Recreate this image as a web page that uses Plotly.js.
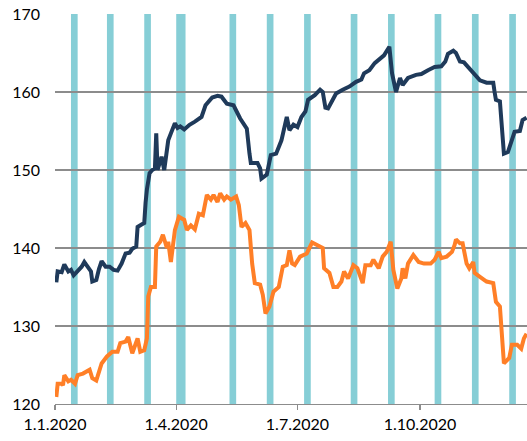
<!DOCTYPE html>
<html>
<head>
<meta charset="utf-8">
<script src="https://cdn.plot.ly/plotly-3.0.1.min.js"></script>
<style>html,body{margin:0;padding:0;background:#fff;}#chart{width:527px;height:441px;}</style>
</head>
<body>
<div id="chart"></div>
<script>
const navyDates = ["2020-01-02","2020-01-03","2020-01-06","2020-01-08","2020-01-11","2020-01-13","2020-01-15","2020-01-18","2020-01-21","2020-01-23","2020-01-26","2020-01-28","2020-01-29","2020-02-01","2020-02-03","2020-02-05","2020-02-08","2020-02-11","2020-02-14","2020-02-17","2020-02-20","2020-02-23","2020-02-26","2020-02-28","2020-03-02","2020-03-03","2020-03-06","2020-03-08","2020-03-09","2020-03-10","2020-03-12","2020-03-14","2020-03-16","2020-03-17","2020-03-18","2020-03-21","2020-03-23","2020-03-26","2020-03-28","2020-03-31","2020-04-02","2020-04-04","2020-04-07","2020-04-11","2020-04-15","2020-04-20","2020-04-23","2020-04-28","2020-05-02","2020-05-05","2020-05-09","2020-05-14","2020-05-19","2020-05-24","2020-05-26","2020-05-27","2020-06-01","2020-06-03","2020-06-04","2020-06-08","2020-06-11","2020-06-15","2020-06-19","2020-06-23","2020-06-25","2020-06-28","2020-07-01","2020-07-04","2020-07-07","2020-07-09","2020-07-14","2020-07-18","2020-07-20","2020-07-22","2020-07-24","2020-07-30","2020-08-04","2020-08-09","2020-08-14","2020-08-18","2020-08-20","2020-08-24","2020-08-28","2020-09-01","2020-09-04","2020-09-08","2020-09-10","2020-09-13","2020-09-16","2020-09-18","2020-09-22","2020-09-28","2020-10-02","2020-10-07","2020-10-12","2020-10-17","2020-10-20","2020-10-22","2020-10-26","2020-10-28","2020-10-31","2020-11-03","2020-11-06","2020-11-10","2020-11-15","2020-11-20","2020-11-25","2020-11-26","2020-11-27","2020-11-30","2020-12-02","2020-12-03","2020-12-06","2020-12-08","2020-12-11","2020-12-15","2020-12-17","2020-12-20"];
const navyValues = [135.6,137.0,136.9,137.9,137.0,137.2,136.5,137.1,137.6,138.2,137.4,137.0,135.7,135.9,137.3,138.3,137.6,137.6,137.2,137.1,138.0,139.3,139.4,139.9,140.2,142.7,143.0,143.2,145.8,147.5,149.6,150.0,150.2,154.7,150.0,151.7,150.0,153.8,154.7,156.0,155.4,155.6,155.2,155.8,156.2,156.8,158.3,159.3,159.5,159.4,158.5,158.3,156.6,155.3,152.1,150.9,150.9,150.2,148.9,149.4,151.9,152.1,153.8,156.8,155.1,155.8,155.5,156.8,157.5,159.0,159.6,160.3,160.0,158.0,157.9,159.8,160.3,160.7,161.3,161.6,162.4,162.8,163.7,164.3,164.7,165.8,162.4,160.0,161.8,160.9,161.8,162.2,162.3,162.8,163.2,163.3,163.9,164.9,165.3,165.0,163.9,163.8,163.2,162.4,161.5,161.2,161.2,160.0,159.0,158.8,155.1,152.1,152.3,153.4,154.9,155.0,156.4,156.7];

const orangeDates = ["2020-01-02","2020-01-03","2020-01-06","2020-01-07","2020-01-08","2020-01-11","2020-01-13","2020-01-16","2020-01-18","2020-01-22","2020-01-27","2020-01-29","2020-02-01","2020-02-05","2020-02-09","2020-02-13","2020-02-17","2020-02-19","2020-02-23","2020-02-25","2020-02-28","2020-03-01","2020-03-03","2020-03-05","2020-03-08","2020-03-10","2020-03-11","2020-03-13","2020-03-16","2020-03-17","2020-03-20","2020-03-22","2020-03-25","2020-03-26","2020-03-28","2020-03-31","2020-04-03","2020-04-07","2020-04-09","2020-04-12","2020-04-15","2020-04-18","2020-04-21","2020-04-24","2020-04-27","2020-04-29","2020-05-02","2020-05-04","2020-05-07","2020-05-09","2020-05-12","2020-05-16","2020-05-18","2020-05-20","2020-05-23","2020-05-26","2020-05-28","2020-05-30","2020-06-03","2020-06-05","2020-06-07","2020-06-10","2020-06-13","2020-06-17","2020-06-20","2020-06-23","2020-06-25","2020-06-27","2020-06-29","2020-07-03","2020-07-08","2020-07-12","2020-07-15","2020-07-20","2020-07-21","2020-07-25","2020-07-28","2020-07-31","2020-08-03","2020-08-05","2020-08-08","2020-08-12","2020-08-15","2020-08-19","2020-08-21","2020-08-25","2020-08-27","2020-08-31","2020-09-03","2020-09-06","2020-09-09","2020-09-11","2020-09-14","2020-09-17","2020-09-18","2020-09-20","2020-09-22","2020-09-26","2020-09-30","2020-10-04","2020-10-09","2020-10-12","2020-10-15","2020-10-17","2020-10-21","2020-10-25","2020-10-27","2020-10-28","2020-10-31","2020-11-02","2020-11-05","2020-11-07","2020-11-10","2020-11-11","2020-11-15","2020-11-17","2020-11-20","2020-11-25","2020-11-27","2020-11-30","2020-12-01","2020-12-02","2020-12-03","2020-12-07","2020-12-09","2020-12-13","2020-12-16","2020-12-18","2020-12-20"];
const orangeValues = [120.9,122.6,122.6,122.4,123.7,122.9,123.1,122.6,123.7,123.9,124.4,123.3,123.0,125.2,126.1,126.7,126.7,127.8,128.0,128.6,126.5,127.3,128.4,126.7,126.9,128.4,133.8,135.0,135.0,140.2,140.8,141.7,140.0,140.8,138.2,142.3,144.0,143.6,142.3,142.9,142.4,144.4,144.2,146.8,146.2,146.8,145.9,147.0,146.2,146.6,146.2,146.6,145.5,142.7,143.2,142.3,138.0,135.5,135.3,134.0,131.6,132.5,134.4,135.0,137.6,137.8,139.7,138.0,137.8,138.9,139.3,140.7,140.4,140.0,137.4,136.8,135.0,135.0,135.7,137.0,136.1,137.8,137.4,135.5,137.8,137.8,138.5,137.4,138.9,139.5,140.8,137.2,134.8,136.1,137.4,136.1,138.0,139.1,138.2,138.0,138.0,138.5,139.5,138.7,138.9,139.5,140.4,141.1,140.6,140.6,138.0,137.4,138.2,136.8,136.3,136.1,135.7,135.5,133.1,132.5,129.5,126.1,125.2,125.9,127.6,127.6,127.1,128.4,129.0];

const bandStarts = ["2020-01-13","2020-02-09","2020-03-08","2020-04-01","2020-05-11","2020-06-08","2020-07-06","2020-08-10","2020-09-07","2020-10-12","2020-11-09","2020-12-07"];
const bandEnds   = ["2020-01-18","2020-02-14","2020-03-13","2020-04-08","2020-05-16","2020-06-13","2020-07-11","2020-08-15","2020-09-12","2020-10-17","2020-11-14","2020-12-12"];

const tickDates = ["2020-01-01","2020-04-01","2020-07-01","2020-10-01"];
const tickLabels = ["1.1.2020","1.4.2020","1.7.2020","1.10.2020"];
const yTicks = [120,130,140,150,160,170];

const shapes = bandStarts.map((s, i) => ({
  type: 'rect', xref: 'x', yref: 'paper', x0: s, x1: bandEnds[i], y0: 0, y1: 1,
  fillcolor: '#86CED6', line: {width: 0}, layer: 'below'
}));

const traces = [
  {x: navyDates, y: navyValues, type: 'scatter', mode: 'lines', line: {color: '#1F3A5A', width: 4}, hoverinfo: 'skip'},
  {x: orangeDates, y: orangeValues, type: 'scatter', mode: 'lines', line: {color: '#FF7F27', width: 4}, hoverinfo: 'skip'}
];

const layout = {
  width: 527, height: 441,
  margin: {l: 55, r: 0, t: 14, b: 37},
  paper_bgcolor: '#ffffff', plot_bgcolor: 'rgba(0,0,0,0)',
  showlegend: false,
  font: {family: 'Lato, "Open Sans", sans-serif', size: 16, color: '#000'},
  xaxis: {
    type: 'date', range: ['2020-01-01', '2020-12-20 08:00'],
    tickmode: 'array', tickvals: tickDates, ticktext: tickLabels,
    showgrid: false, zeroline: false,
    showline: true, linecolor: '#8c8c8c', linewidth: 1.3,
    ticks: 'outside', ticklen: 5, tickwidth: 1.3, tickcolor: '#8c8c8c',
    tickfont: {family: 'Lato, "Open Sans", sans-serif', size: 16, color: '#000'}
  },
  yaxis: {
    range: [120, 170], tickmode: 'array', tickvals: yTicks,
    showgrid: true, gridcolor: '#8c8c8c', gridwidth: 1.3,
    zeroline: false, showline: false, ticks: '',
    ticklabelstandoff: 14,
    tickfont: {family: 'Lato, "Open Sans", sans-serif', size: 16, color: '#000'}
  },
  shapes: shapes
};

Plotly.newPlot('chart', traces, layout, {displayModeBar: false, staticPlot: true});
</script>
</body>
</html>
